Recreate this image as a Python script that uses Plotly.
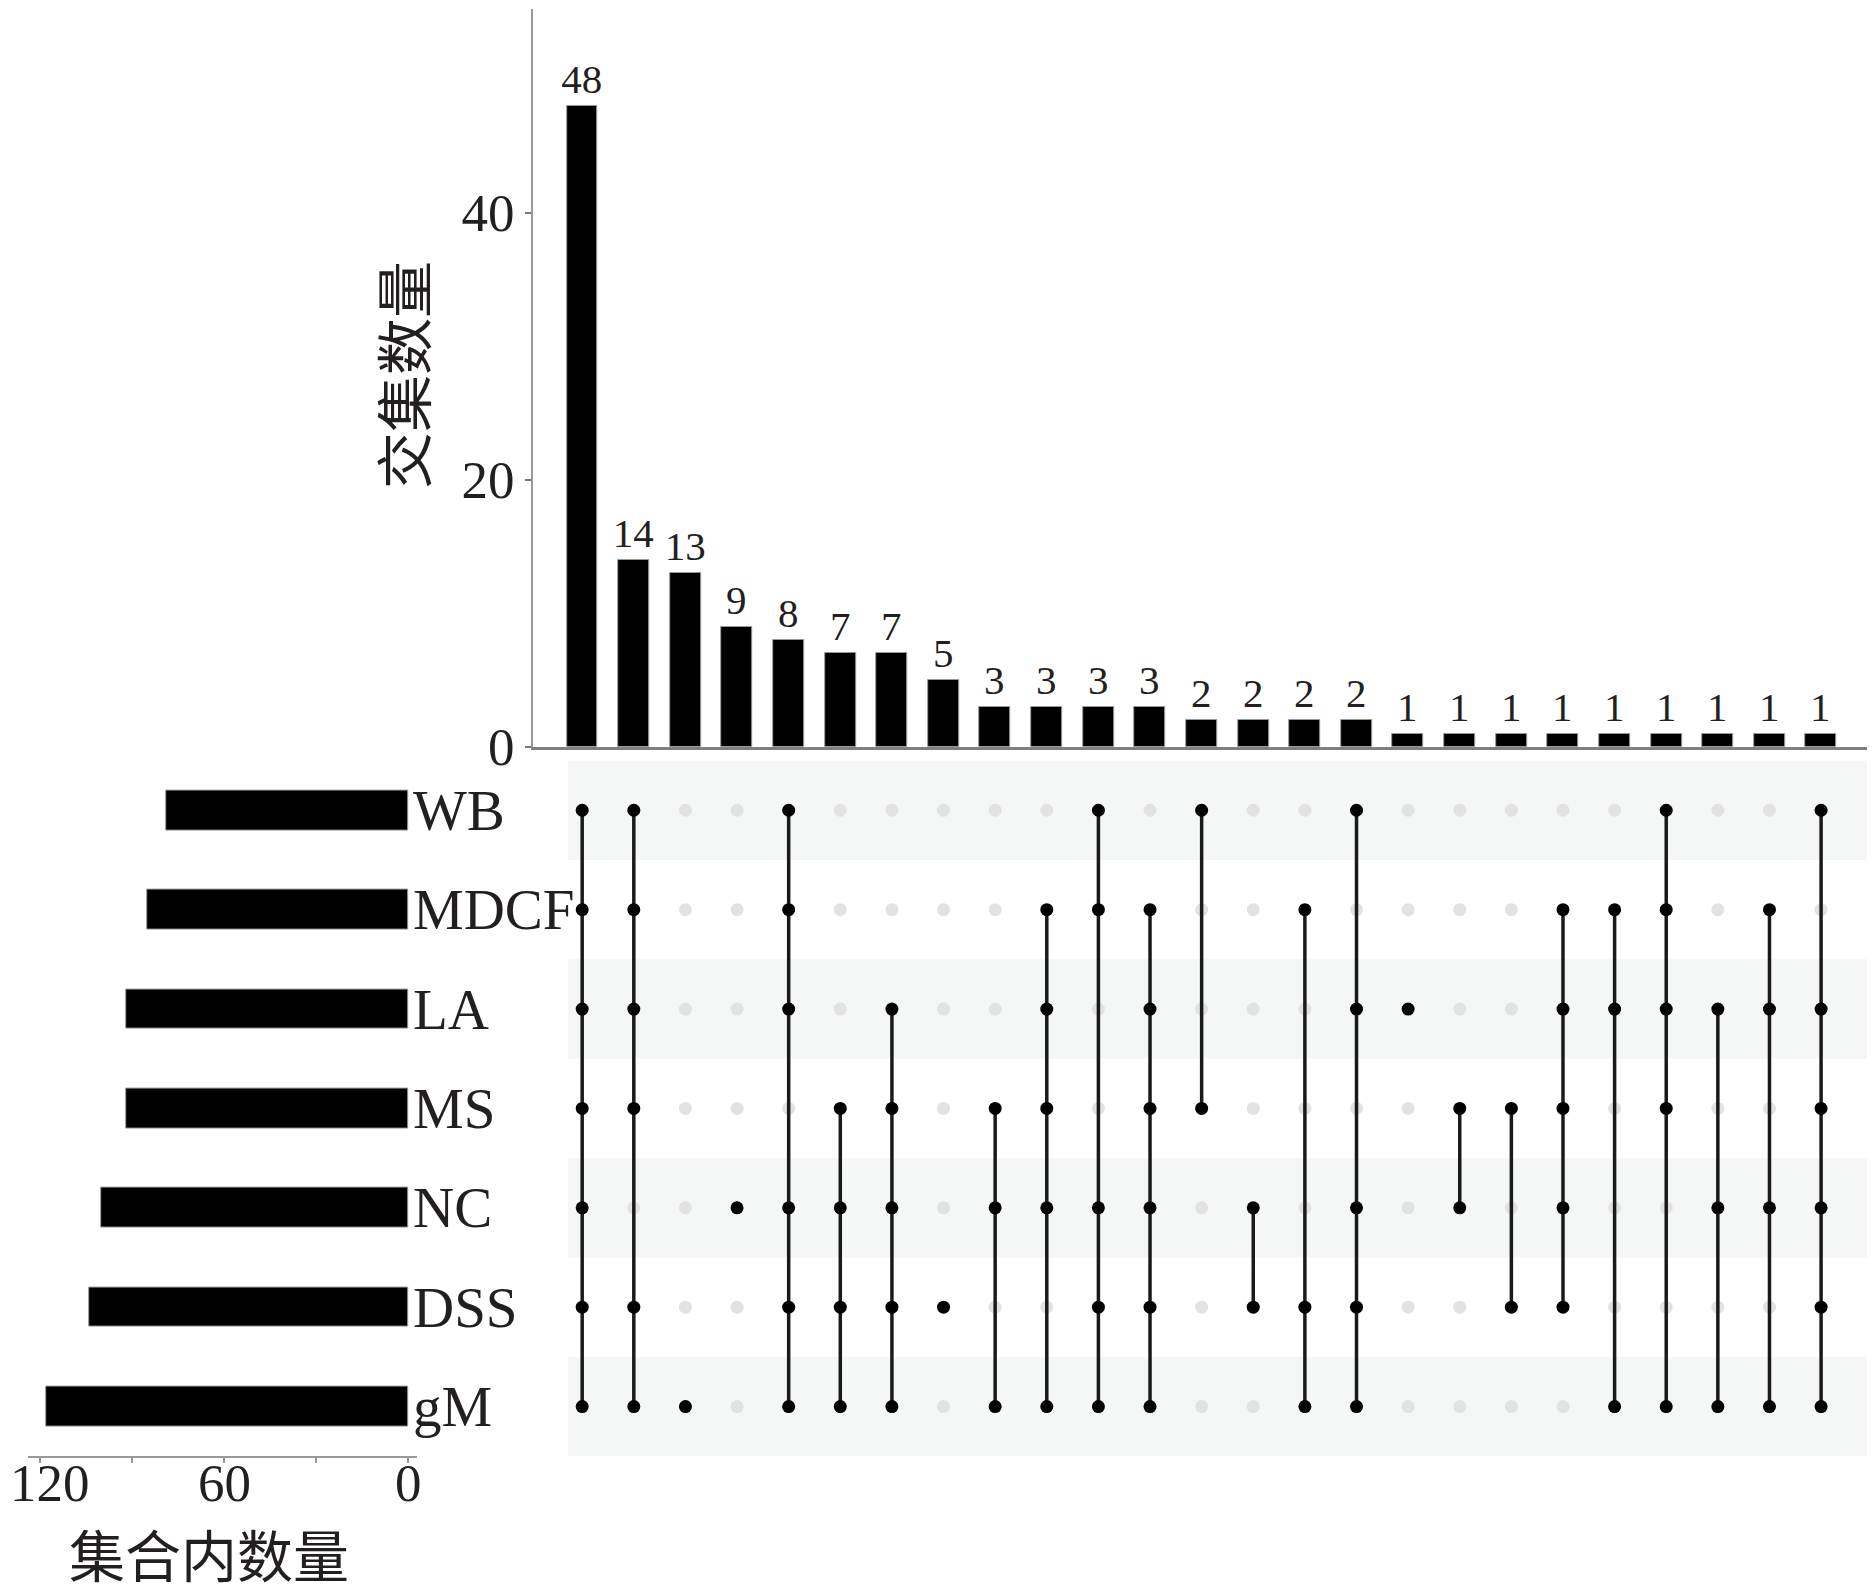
import plotly.graph_objects as go

W, H = 1875, 1596

sets = ["WB", "MDCF", "LA", "MS", "NC", "DSS", "gM"]
set_sizes = [79, 85, 92, 92, 100, 104, 118]
intersection_sizes = [48, 14, 13, 9, 8, 7, 7, 5, 3, 3, 3, 3, 2, 2, 2, 2, 1, 1, 1, 1, 1, 1, 1, 1, 1]
intersection_members = [
    ["WB", "MDCF", "LA", "MS", "NC", "DSS", "gM"],
    ["WB", "MDCF", "LA", "MS", "DSS", "gM"],
    ["gM"],
    ["NC"],
    ["WB", "MDCF", "LA", "NC", "DSS", "gM"],
    ["MS", "NC", "DSS", "gM"],
    ["LA", "MS", "NC", "DSS", "gM"],
    ["DSS"],
    ["MS", "NC", "gM"],
    ["MDCF", "LA", "MS", "NC", "gM"],
    ["WB", "MDCF", "NC", "DSS", "gM"],
    ["MDCF", "LA", "MS", "NC", "DSS", "gM"],
    ["WB", "MS"],
    ["NC", "DSS"],
    ["MDCF", "DSS", "gM"],
    ["WB", "LA", "NC", "DSS", "gM"],
    ["LA"],
    ["MS", "NC"],
    ["MS", "DSS"],
    ["MDCF", "LA", "MS", "NC", "DSS"],
    ["MDCF", "LA", "gM"],
    ["WB", "MDCF", "LA", "MS", "gM"],
    ["LA", "NC", "gM"],
    ["MDCF", "LA", "NC", "gM"],
    ["WB", "LA", "MS", "NC", "DSS", "gM"],
]
top_ticks = [0, 20, 40]
left_ticks = [0, 30, 60, 90, 120]
left_ticktext = ["0", "", "60", "", "120"]
top_title = "交集数量"
left_title = "集合内数量"

SERIF = "Liberation Serif, Times New Roman, serif"
CJK = "Noto Sans CJK SC"
TXT = "#231f20"

def px_x(p):
    return min(max(p / W, 0.0), 1.0)

def px_y(p):
    return min(max((H - p) / H, 0.0), 1.0)

ncol = len(intersection_sizes)
xs = list(range(ncol))
set_idx = {s: i for i, s in enumerate(sets)}

fig = go.Figure()

fig.add_trace(go.Bar(
    x=xs, y=intersection_sizes, width=0.6,
    marker=dict(color="black", line=dict(color="#9a9a9a", width=1)),
    text=[str(v) for v in intersection_sizes], textposition="outside",
    constraintext="none",
    textfont=dict(family=SERIF, size=41, color=TXT),
    cliponaxis=False, xaxis="x", yaxis="y", showlegend=False,
))

gx, gy, bx, by, lx, ly = [], [], [], [], [], []
for ci, mem in enumerate(intersection_members):
    rows = sorted(set_idx[m] for m in mem)
    for r in range(len(sets)):
        if r in rows:
            bx.append(ci); by.append(r)
        else:
            gx.append(ci); gy.append(r)
    if len(rows) > 1:
        lx += [ci, ci, None]
        ly += [rows[0], rows[-1], None]

fig.add_trace(go.Scatter(x=gx, y=gy, mode="markers",
                         marker=dict(color="#e2e2e2", size=13),
                         xaxis="x2", yaxis="y2", showlegend=False))
fig.add_trace(go.Scatter(x=lx, y=ly, mode="lines",
                         line=dict(color="#1a1a1a", width=3.5),
                         xaxis="x2", yaxis="y2", showlegend=False))
fig.add_trace(go.Scatter(x=bx, y=by, mode="markers",
                         marker=dict(color="black", size=13),
                         xaxis="x2", yaxis="y2", showlegend=False))

fig.add_trace(go.Bar(
    x=set_sizes, y=list(range(len(sets))), orientation="h", width=0.4,
    marker=dict(color="black", line=dict(color="#9a9a9a", width=1)),
    xaxis="x3", yaxis="y3", showlegend=False,
))

xr = [-0.949, 24.99]
xdom = [px_x(525.2), px_x(1864.2)]
mdom = [px_y(1476), px_y(767)]

# left (set size) axis geometry
L0, L1 = 20.2, 409.2
lrange = [123.9, -2.93]

def lx_px(v):
    return L0 + (lrange[0] - v) / (lrange[0] - lrange[1]) * (L1 - L0)

shapes = []
for k in range(0, len(sets), 2):
    shapes.append(dict(type="rect", xref="x2", yref="y2", x0=-0.271, x1=24.99,
                       y0=k - 0.5, y1=k + 0.5, fillcolor="#f5f6f6",
                       line=dict(width=0), layer="below"))

annotations = []
for i, s in enumerate(sets):
    annotations.append(dict(text=s, xref="paper", yref="y2", x=px_x(403), y=i,
                            xanchor="left", yanchor="middle", showarrow=False,
                            font=dict(family=SERIF, size=57, color=TXT)))
for v, t in zip(left_ticks, left_ticktext):
    if not t:
        continue
    cx = lx_px(v)
    if cx < 45:
        annotations.append(dict(text=t, xref="paper", yref="paper", x=0.0,
                                y=px_y(1503), xanchor="left", yanchor="middle",
                                showarrow=False,
                                font=dict(family=SERIF, size=53, color=TXT)))
    else:
        annotations.append(dict(text=t, xref="paper", yref="paper", x=px_x(cx),
                                y=px_y(1503), xanchor="center", yanchor="middle",
                                showarrow=False,
                                font=dict(family=SERIF, size=53, color=TXT)))
annotations.append(dict(text=top_title, xref="paper", yref="paper",
                        x=px_x(393), y=px_y(374), textangle=-90,
                        xanchor="center", yanchor="middle", showarrow=False,
                        font=dict(family=CJK, size=57, color=TXT)))
annotations.append(dict(text=left_title, xref="paper", yref="paper",
                        x=px_x(201), y=px_y(1574), yanchor="middle",
                        xanchor="center", showarrow=False,
                        font=dict(family=CJK, size=56, color=TXT)))

fig.update_layout(
    width=W, height=H, margin=dict(l=0, r=0, t=0, b=0),
    paper_bgcolor="white", plot_bgcolor="rgba(0,0,0,0)",
    bargap=0,
    xaxis=dict(domain=xdom, range=xr, showticklabels=False, showgrid=False,
               zeroline=False, showline=True, linecolor="#808080", linewidth=3,
               ticks="", anchor="y"),
    yaxis=dict(domain=[px_y(753), px_y(1)], range=[0, 55.25], showgrid=False,
               zeroline=False, showline=True, linecolor="#999999", linewidth=2,
               tickvals=top_ticks, ticks="outside", ticklen=6, tickwidth=2,
               tickcolor="#777777",
               tickfont=dict(family=SERIF, size=53, color=TXT), anchor="x"),
    xaxis2=dict(domain=xdom, range=xr, visible=False, anchor="y2"),
    yaxis2=dict(domain=mdom, range=[6.5, -0.5], visible=False, anchor="x2"),
    xaxis3=dict(domain=[px_x(L0), px_x(L1)], range=lrange, showgrid=False,
                zeroline=False, showline=True, linecolor="#999999", linewidth=2,
                tickvals=left_ticks, showticklabels=False, ticks="outside",
                ticklen=5, tickwidth=2, tickcolor="#999999", anchor="y3"),
    yaxis3=dict(domain=mdom, range=[6.5, -0.5], visible=False, anchor="x3"),
    shapes=shapes, annotations=annotations,
)

fig.write_html("out.html")
